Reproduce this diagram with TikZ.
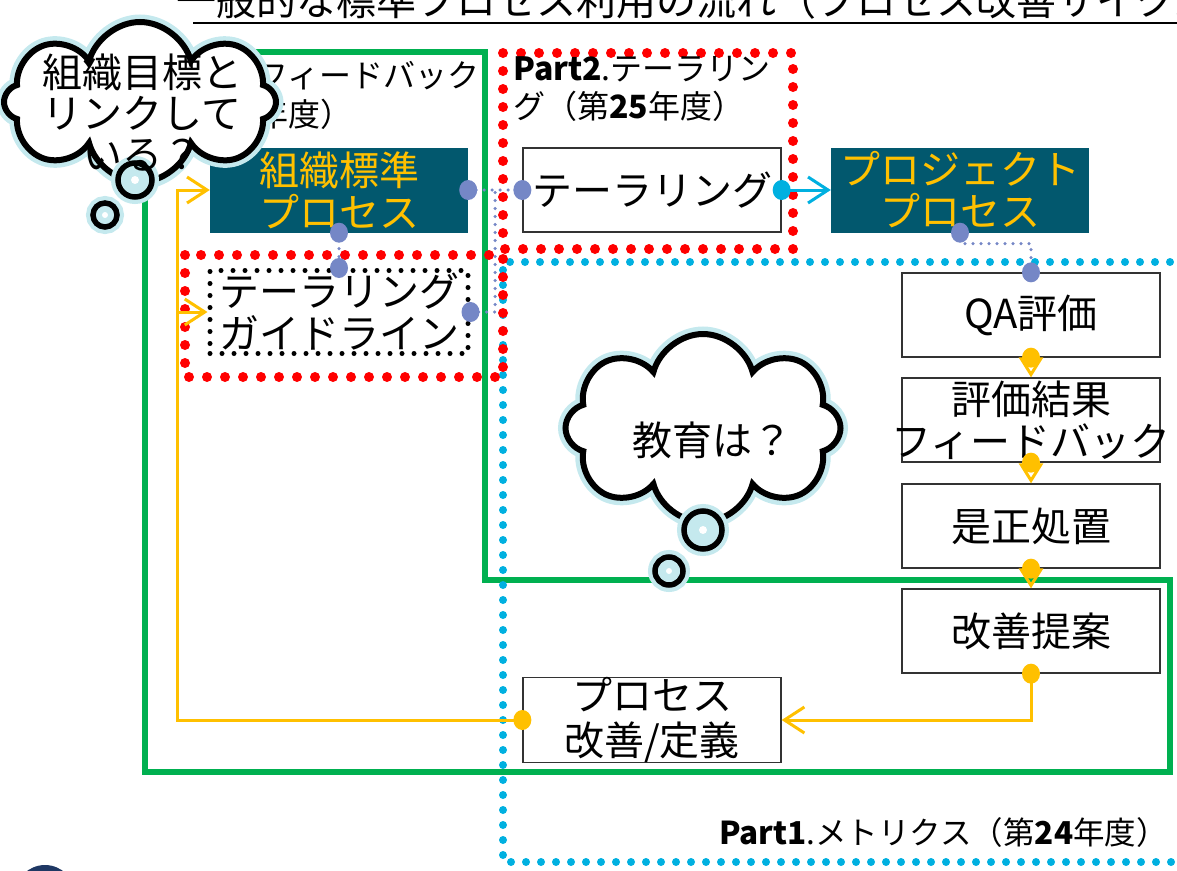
\documentclass[tikz,border=0pt]{standalone}
\usepackage{fontspec}
\setmainfont{Noto Sans CJK JP}
\usetikzlibrary{shapes.symbols,arrows.meta}
\definecolor{grn}{HTML}{00B050}
\definecolor{org}{HTML}{FFC000}
\definecolor{cya}{HTML}{00B0E0}
\definecolor{rd}{HTML}{FF0000}
\definecolor{bgr}{HTML}{7587C6}
\definecolor{dteal}{HTML}{02586E}
\definecolor{halo}{HTML}{C5E9EE}
\definecolor{navy}{HTML}{1F3864}
\tikzset{
  big/.style={font=\fontsize{40}{42}\selectfont},
  lbl/.style={font=\fontsize{32}{38}\selectfont, align=left, inner sep=0},
  pbox/.style={draw=black!80, line width=1.3pt, fill=white, minimum width=258pt, minimum height=84pt, inner sep=0, align=center, big},
  dbox/.style={fill=dteal, text=org, minimum width=258pt, minimum height=85pt, inner sep=0, align=center, big},
  reddots/.style={rd, line width=10pt, dash pattern=on 0pt off 18pt, line cap=round},
  cyadots/.style={cya, line width=8pt, dash pattern=on 0pt off 15pt, line cap=round},
  blkdots/.style={draw=black, line width=5pt, dash pattern=on 0pt off 12pt, line cap=round},
  gdots/.style={bgr, line width=3.5pt, dash pattern=on 0pt off 8pt, line cap=round},
  oline/.style={org, line width=3pt},
  barb/.style={-{Straight Barb[length=20pt,width=26pt,line width=3pt]}},
  tri/.style={-{Triangle[open,length=20pt,width=24pt,line width=3pt]}},
  cloudsty/.style={cloud, cloud puffs=8, cloud puff arc=150, cloud ignores aspect, draw=black, line width=6pt, fill=white, inner sep=0, preaction={draw=halo, line width=15pt}},
  bubble/.style={circle, draw=black, line width=5.5pt, fill=halo, inner sep=0, preaction={draw=halo, line width=14pt}},
}
\begin{document}
\begin{tikzpicture}[x=1pt,y=-1pt]
\useasboundingbox (0,0) rectangle (1177,870);
% green frame
\draw[grn, line width=6pt, line join=miter] (145,52) -- (485,52) -- (485,580) -- (1170,580) -- (1170,772) -- (145,772) -- cycle;
% dotted regions
\draw[cyadots] (1200,262) -- (503,262) -- (503,862) -- (1200,862);
\draw[reddots] (503,53) rectangle (793,249);
\draw[reddots] (185,255) rectangle (503,377);
% labels
\node[lbl, anchor=north west] (p2) at (513,56) {{\bfseries Part2}.テーラリン\\グ（第{\bfseries 25}年度）};
\node[lbl, anchor=east, font=\fontsize{31.5}{38}\selectfont] (p1) at (1168,833) {{\bfseries Part1}.メトリクス（第{\bfseries 24}年度）};
\node[lbl, anchor=west] (p3a) at (256,76) {フィードバック};
\node[lbl, anchor=west] (p3b) at (256,114) {年度）};
% boxes
\node[dbox] (org) at (339,190) {組織標準\\プロセス};
\node[inner sep=0, minimum width=258pt, minimum height=83pt, blkdots, align=center, big] (guide) at (339,312) {テーラリング\\ガイドライン};
\node[pbox] (tail) at (652,190) {テーラリング};
\node[dbox] (proj) at (960,190) {プロジェクト\\プロセス};
\node[pbox] (qa) at (1031,315) {QA評価};
\node[pbox] (fb) at (1031,420) {評価結果\\\makebox[0pt]{フィードバック}};
\node[pbox] (cor) at (1031,526) {是正処置};
\node[pbox] (imp) at (1031,631) {改善提案};
\node[pbox, font=\fontsize{40}{45}\selectfont] (def) at (652,720) {プロセス\\改善/定義};
% grey dotted connectors
\coordinate (jn) at (495,190);
\draw[gdots] (org.east) -- (tail.west);
\draw[gdots] (guide.east) -| (jn);
\draw[gdots] (org.south) -- (guide.north);
\draw[gdots] (proj.south) -- ++(0,11) -| (qa.north);
\foreach \p in {org.east, tail.west, guide.east, org.south, guide.north, proj.south, qa.north}
  \fill[bgr] (\p) ellipse (9pt and 10pt);
% cyan arrow
\draw[cya, line width=3pt, barb] (tail.east) -- (proj.west);
\fill[cya] (tail.east) ellipse (9pt and 10pt);
% orange connectors
\coordinate (cl) at (177,190);
\draw[oline, barb] (def.west) -| (cl) -- (org.west);
\draw[oline, barb] (cl |- guide.west) -- (guide.west);
\draw[oline, barb] (imp.south) |- (def.east);
\draw[oline, tri] (qa.south) -- (fb.north);
\draw[oline, tri] (fb.south) -- (cor.north);
\draw[oline, tri] (cor.south) -- (imp.north);
\foreach \p in {def.west, imp.south, qa.south, fb.south, cor.south}
  \fill[org] (\p) ellipse (9pt and 10pt);
% clouds
\node[cloudsty, minimum width=272pt, minimum height=160pt] (cl1) at (140,102) {};
\node[bubble, minimum size=34pt] (b1) at (135,180) {};
\node[bubble, minimum size=24pt] (b2) at (105,215) {};
\fill[white] (b1.center) circle (4pt);
\fill[white] (b2.center) circle (3pt);
\node[align=center, inner sep=0, font=\fontsize{40}{41}\selectfont] (t1) at (142,113) {組織目標と\\リンクして\\いる？};
\node[cloudsty, minimum width=275pt, minimum height=188pt] (cl2) at (703,428) {};
\node[bubble, minimum size=38pt] (b3) at (703,530) {};
\node[bubble, minimum size=28pt] (b4) at (669,571) {};
\fill[white] (b3.center) circle (4pt);
\fill[white] (b4.center) circle (3pt);
\node[big, inner sep=0] (t2) at (712,440) {教育は？};
% title
\node[anchor=base west, inner sep=0, font=\fontsize{40}{42}\selectfont] (title) at (176,16) {一般的な標準プロセス利用の流れ（プロセス改善サイクル）};
\draw[line width=2.5pt] (193,23) -- (1177,23);
% partial logo
\fill[navy] (45,895) circle (30pt);
\end{tikzpicture}
\end{document}
